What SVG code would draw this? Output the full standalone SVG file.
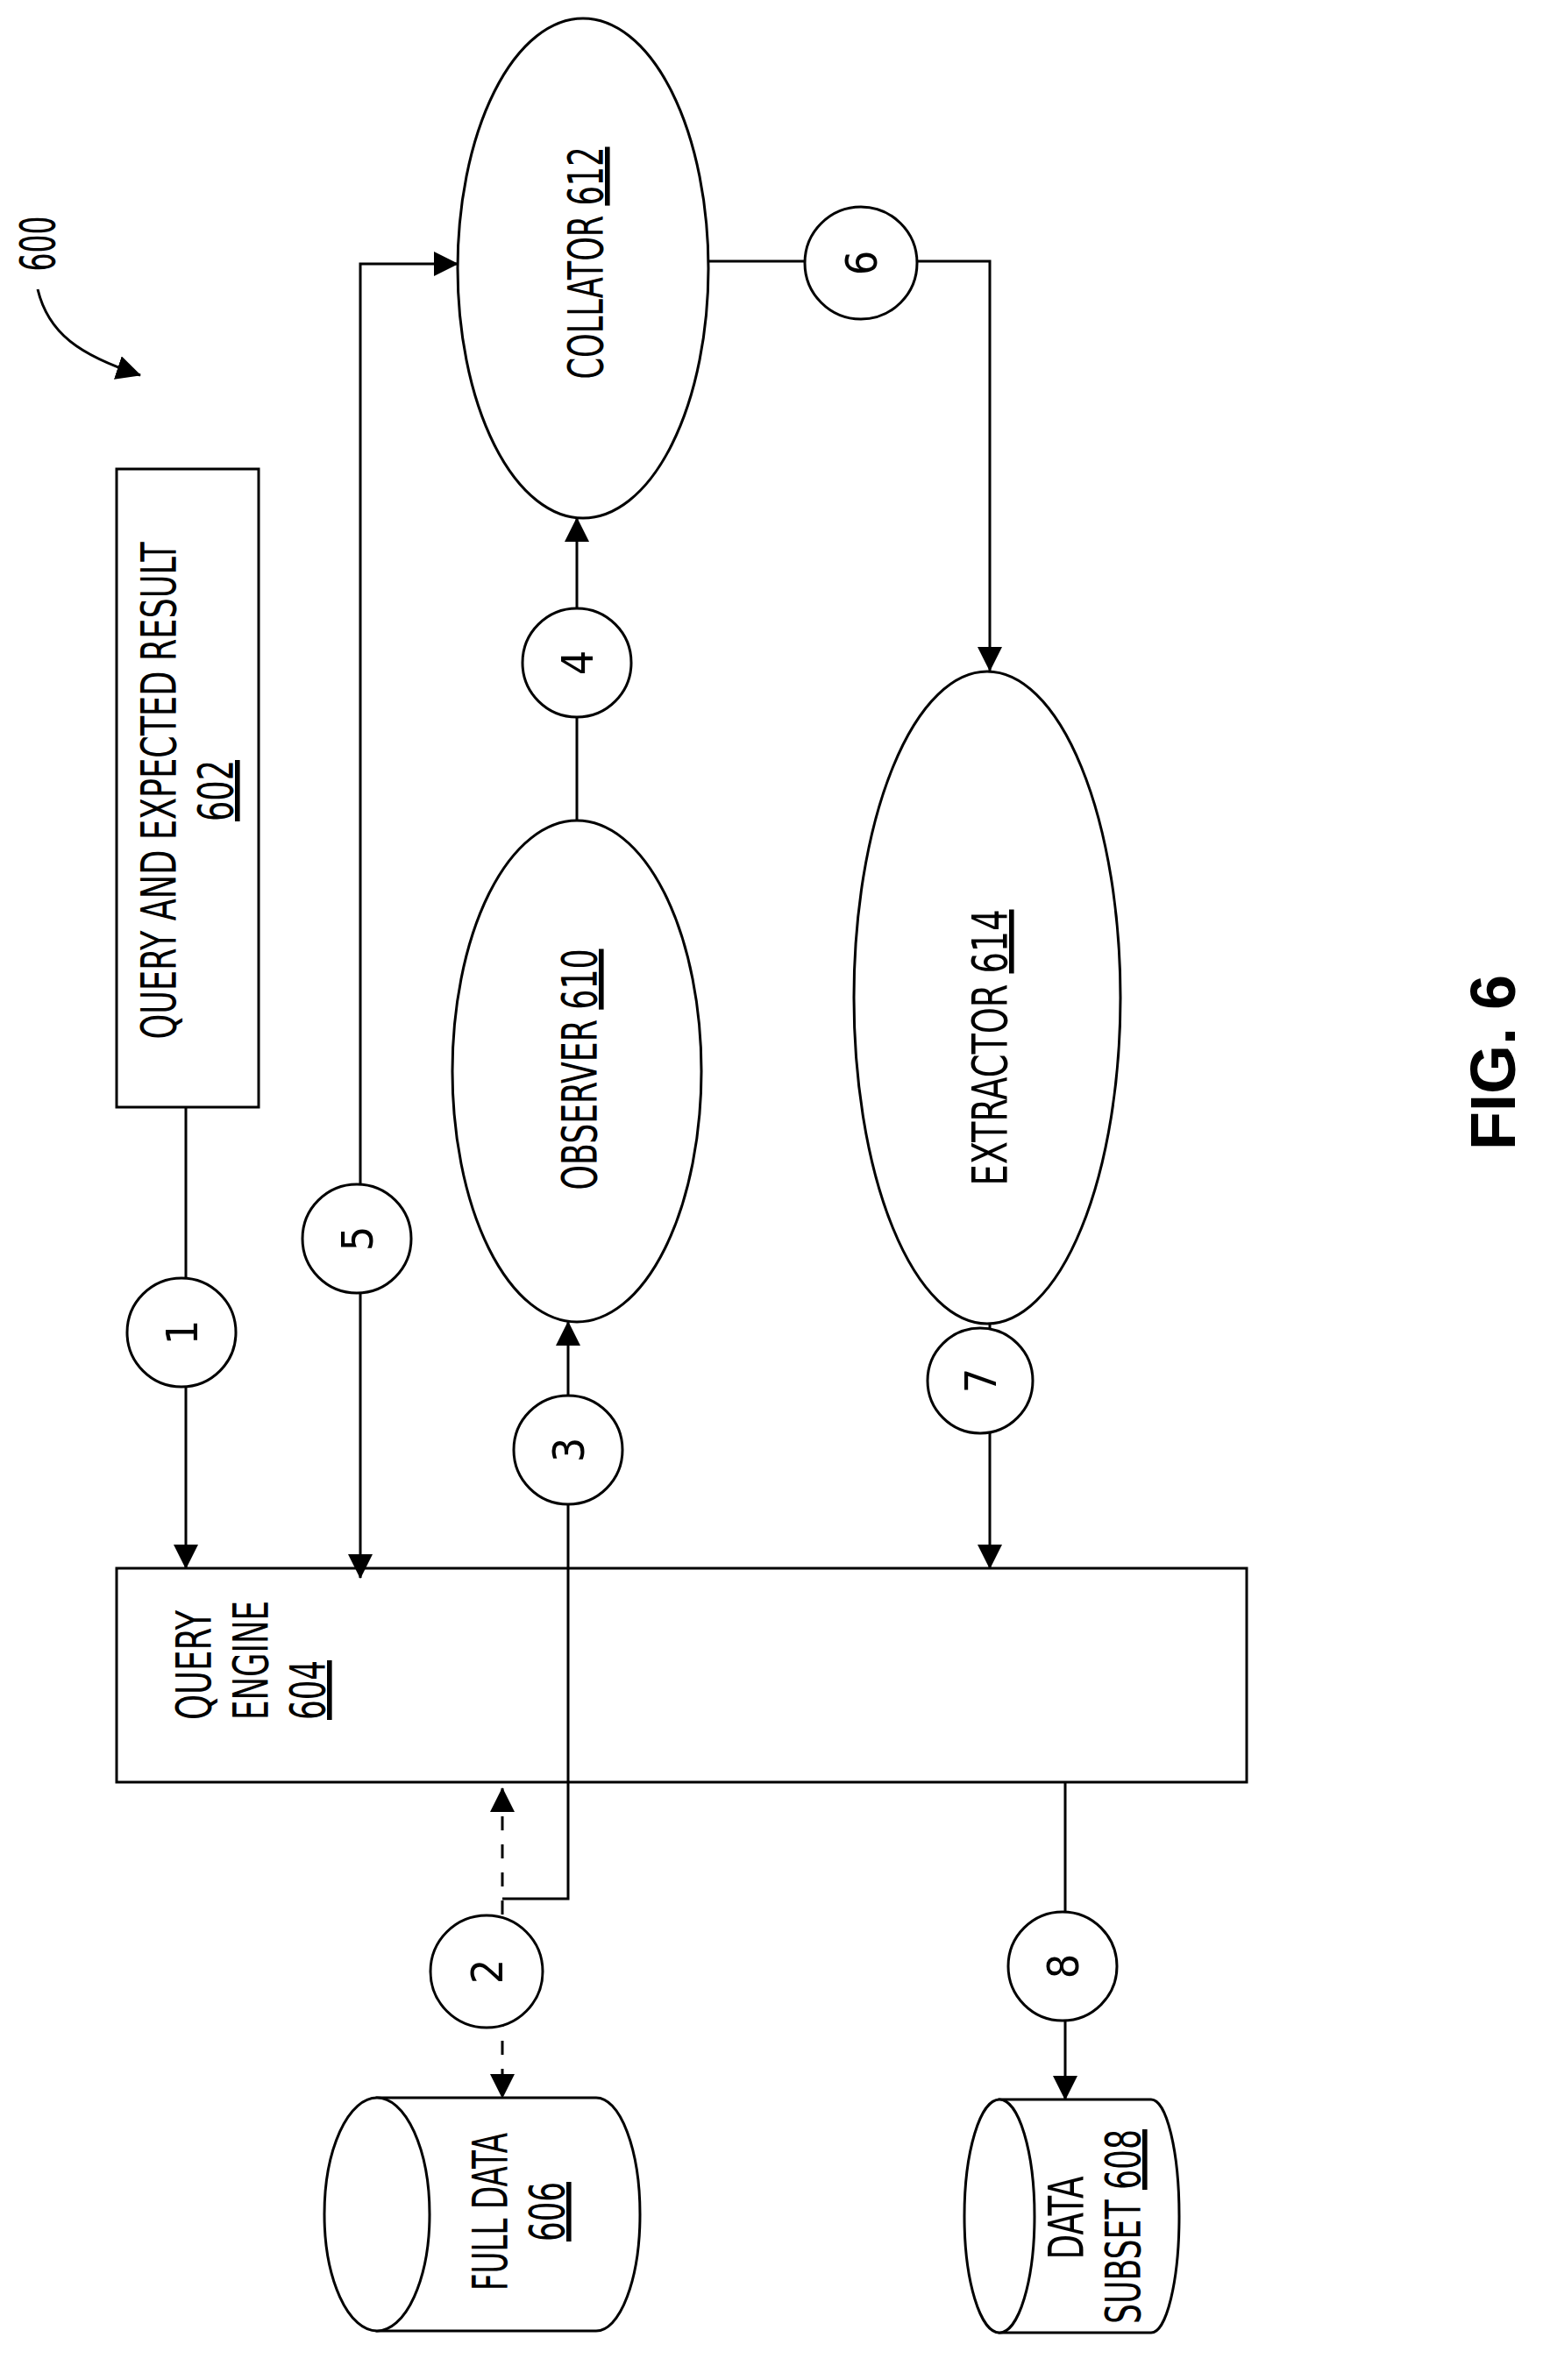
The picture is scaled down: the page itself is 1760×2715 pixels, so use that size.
<svg xmlns="http://www.w3.org/2000/svg" width="1760" height="2715" viewBox="0 0 1760 2715">
<style>
.s{fill:#fff;stroke:#000;stroke-width:3}
.l{fill:none;stroke:#000;stroke-width:3}
.t{font-family:"DejaVu Sans Condensed","Liberation Sans",sans-serif;font-size:56px;fill:#000;text-anchor:middle}
.d{font-size:50px}
.u{text-decoration:underline}
</style>
<defs>
<marker id="a" viewBox="0 0 28 28" refX="27" refY="14" markerWidth="28" markerHeight="28" markerUnits="userSpaceOnUse" orient="auto-start-reverse"><path d="M0,0 L28,14 L0,28 z" fill="#000"/></marker>
</defs>
<rect width="1760" height="2715" fill="#fff"/>
<g id="n604"><rect class="s" x="133" y="1789" width="1289" height="244"/>
<text class="t" style="text-anchor:start" transform="translate(240,1962) rotate(-90)" textLength="125" lengthAdjust="spacingAndGlyphs">QUERY</text>
<text class="t" style="text-anchor:start" transform="translate(305,1962) rotate(-90)" textLength="136" lengthAdjust="spacingAndGlyphs">ENGINE</text>
<text class="t u" style="text-anchor:start" transform="translate(370,1962) rotate(-90)" textLength="68" lengthAdjust="spacingAndGlyphs">604</text></g>
<g id="connectors">
<path class="l" d="M212,1263 V1789" marker-end="url(#a)"/>
<path class="l" d="M411,1800 V301 H522" marker-end="url(#a)" marker-start="url(#a)"/>
<path class="l" d="M573,2166 H648 V1508" marker-end="url(#a)"/>
<path class="l" d="M658,937 V591" marker-end="url(#a)"/>
<path class="l" d="M808,298 H1129 V765" marker-end="url(#a)"/>
<path class="l" d="M1129,1510 V1789" marker-end="url(#a)"/>
<path class="l" d="M573,2040 V2393" stroke-dasharray="16,16" marker-end="url(#a)" marker-start="url(#a)"/>
<path class="l" d="M1215,2033 V2395" marker-end="url(#a)"/>
<path class="l" d="M43,330 C55,380 90,405 160,428" marker-end="url(#a)"/>
</g>
<g id="n602"><rect class="s" x="133" y="535" width="162" height="728"/>
<text class="t" transform="translate(200,902) rotate(-90)" textLength="567" lengthAdjust="spacingAndGlyphs">QUERY AND EXPECTED RESULT</text>
<text class="t u" transform="translate(265,902) rotate(-90)" textLength="70" lengthAdjust="spacingAndGlyphs">602</text></g>
<g id="n612"><ellipse class="s" cx="665" cy="306" rx="143" ry="285"/>
<text class="t" transform="translate(687,300) rotate(-90)" textLength="265" lengthAdjust="spacingAndGlyphs">COLLATOR <tspan class="u">612</tspan></text></g>
<g id="n610"><ellipse class="s" cx="658" cy="1222" rx="142" ry="286"/>
<text class="t" transform="translate(680,1220) rotate(-90)" textLength="275" lengthAdjust="spacingAndGlyphs">OBSERVER <tspan class="u">610</tspan></text></g>
<g id="n614"><ellipse class="s" cx="1126" cy="1138" rx="152" ry="372"/>
<text class="t" transform="translate(1148,1195) rotate(-90)" textLength="315" lengthAdjust="spacingAndGlyphs">EXTRACTOR <tspan class="u">614</tspan></text></g>
<g id="n606"><path class="s" d="M430,2393 H680 A50,133 0 0 1 680,2659 H430 Z"/><ellipse class="s" cx="430" cy="2526" rx="60" ry="133"/>
<text class="t" transform="translate(578,2523) rotate(-90)" textLength="180" lengthAdjust="spacingAndGlyphs">FULL DATA</text>
<text class="t u" transform="translate(643,2523) rotate(-90)" textLength="68" lengthAdjust="spacingAndGlyphs">606</text></g>
<g id="n608"><path class="s" d="M1140,2395 H1313 A32,133 0 0 1 1313,2661 H1140 Z"/><ellipse class="s" cx="1140" cy="2528" rx="40" ry="133"/>
<text class="t" transform="translate(1235,2530) rotate(-90)" textLength="95" lengthAdjust="spacingAndGlyphs">DATA</text>
<text class="t" transform="translate(1300,2540) rotate(-90)" textLength="222" lengthAdjust="spacingAndGlyphs">SUBSET <tspan class="u">608</tspan></text></g>
<g id="c1"><circle class="s" cx="207" cy="1520" r="62"/><text class="t d" transform="translate(225,1520) rotate(-90)">1</text></g>
<g id="c2"><circle class="s" cx="555" cy="2249" r="64"/><text class="t d" transform="translate(573,2249) rotate(-90)">2</text></g>
<g id="c3"><circle class="s" cx="648" cy="1654" r="62"/><text class="t d" transform="translate(666,1654) rotate(-90)">3</text></g>
<g id="c4"><circle class="s" cx="658" cy="756" r="62"/><text class="t d" transform="translate(676,756) rotate(-90)">4</text></g>
<g id="c5"><circle class="s" cx="407" cy="1413" r="62"/><text class="t d" transform="translate(425,1413) rotate(-90)">5</text></g>
<g id="c6"><circle class="s" cx="982" cy="300" r="64"/><text class="t d" transform="translate(1000,300) rotate(-90)">6</text></g>
<g id="c7"><circle class="s" cx="1118" cy="1575" r="60"/><text class="t d" transform="translate(1136,1575) rotate(-90)">7</text></g>
<g id="c8"><circle class="s" cx="1212" cy="2243" r="62"/><text class="t d" transform="translate(1230,2243) rotate(-90)">8</text></g>
<text class="t" transform="translate(62,278) rotate(-90)" textLength="63" lengthAdjust="spacingAndGlyphs">600</text>
<text class="t" style="font-family:'Liberation Sans',sans-serif;font-weight:bold;font-size:72px" transform="translate(1728,1212) rotate(-90)">FIG. 6</text>
</svg>
